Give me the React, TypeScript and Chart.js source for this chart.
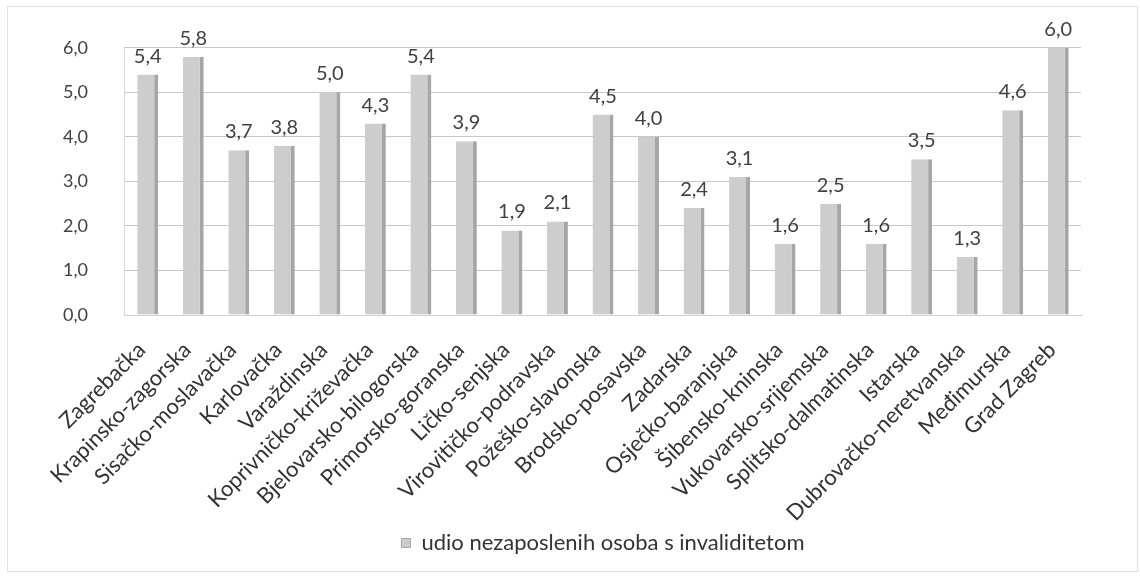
import React, { useEffect, useRef } from "react";
import { Chart, registerables } from "chart.js";

Chart.register(...registerables);

const categories = [
  "Zagrebačka",
  "Krapinsko-zagorska",
  "Sisačko-moslavačka",
  "Karlovačka",
  "Varaždinska",
  "Koprivničko-križevačka",
  "Bjelovarsko-bilogorska",
  "Primorsko-goranska",
  "Ličko-senjska",
  "Virovitičko-podravska",
  "Požeško-slavonska",
  "Brodsko-posavska",
  "Zadarska",
  "Osječko-baranjska",
  "Šibensko-kninska",
  "Vukovarsko-srijemska",
  "Splitsko-dalmatinska",
  "Istarska",
  "Dubrovačko-neretvanska",
  "Međimurska",
  "Grad Zagreb",
];

const values = [5.4, 5.8, 3.7, 3.8, 5.0, 4.3, 5.4, 3.9, 1.9, 2.1, 4.5, 4.0, 2.4, 3.1, 1.6, 2.5, 1.6, 3.5, 1.3, 4.6, 6.0];

const seriesLabel = "udio nezaposlenih osoba s invaliditetom";

const yMin = 0;
const yMax = 6;
const yStep = 1;

const FONT = "Lato, 'Open Sans', sans-serif";

const fmt = (v: number) => v.toFixed(1).replace(".", ",");

const valueLabels = {
  id: "valueLabels",
  afterDatasetsDraw(chart: any) {
    const ctx = chart.ctx;
    const meta = chart.getDatasetMeta(0);
    ctx.save();
    ctx.font = `20px ${FONT}`;
    ctx.fillStyle = "#404040";
    ctx.textAlign = "center";
    ctx.textBaseline = "alphabetic";
    meta.data.forEach((bar: any, i: number) => {
      const v = chart.data.datasets[0].data[i] as number;
      ctx.fillText(fmt(v), bar.x, bar.y - 12);
    });
    ctx.restore();
  },
};

export default function App() {
  const ref = useRef<HTMLCanvasElement | null>(null);

  useEffect(() => {
    if (!ref.current) return;
    const chart = new Chart(ref.current, {
      type: "bar",
      data: {
        labels: categories,
        datasets: [
          {
            label: seriesLabel,
            data: values,
            backgroundColor: "#cdcdcd",
            borderColor: "#a6a6a6",
            borderWidth: { left: 0, right: 4, top: 0, bottom: 0 } as any,
            borderSkipped: false,
            barPercentage: 0.46,
            categoryPercentage: 1,
          },
        ],
      },
      options: {
        animation: false,
        responsive: true,
        maintainAspectRatio: false,
        layout: { padding: { top: 44, right: 59, left: 26, bottom: 12 } },
        plugins: {
          legend: {
            position: "bottom",
            fullSize: false,
            labels: {
              boxWidth: 9,
              boxHeight: 9,
              color: "#333333",
              font: { family: FONT, size: 22 },
              padding: 10,
            },
          },
          tooltip: { enabled: false },
        },
        scales: {
          x: {
            grid: { display: false, drawTicks: false },
            border: { display: true, color: "#cfcfcf" },
            afterFit: (scale: any) => {
              scale.height = 207;
            },
            ticks: {
              color: "#333333",
              font: { family: FONT, size: 22 },
              maxRotation: 45,
              minRotation: 45,
              autoSkip: false,
              padding: 22,
              labelOffset: -6,
            },
          },
          y: {
            min: yMin,
            max: yMax,
            grid: { color: "#c8c8c8", drawTicks: false },
            border: { display: true, color: "#d5d5d5" },
            ticks: {
              stepSize: yStep,
              color: "#404040",
              font: { family: FONT, size: 18 },
              padding: 37,
              callback: (v: any) => fmt(Number(v)),
            },
          },
        },
      },
      plugins: [valueLabels],
    });
    return () => chart.destroy();
  }, []);

  return (
    <div style={{ position: "fixed", left: 0, top: 0, width: 1140, height: 576, background: "#fff" }}>
      <div
        style={{
          position: "absolute",
          left: 7,
          top: 6,
          width: 1129,
          height: 564,
          border: "1px solid #e2e2e2",
        }}
      />
      <canvas ref={ref} style={{ position: "absolute", left: 0, top: 0 }} />
    </div>
  );
}
